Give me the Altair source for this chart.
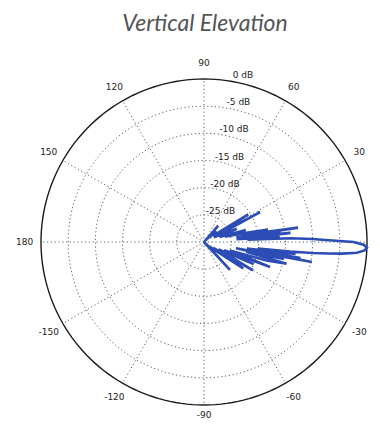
import altair as alt
import pandas as pd

# ---- data ----
ring_db = [0, -5, -10, -15, -20, -25]
ring_labels = ["0 dB", "-5 dB", "-10 dB", "-15 dB", "-20 dB", "-25 dB"]
spoke_angles = [0, 30, 60, 90, 120, 150, 180, 210, 240, 270, 300, 330]
angle_label_values = [90, 60, 30, -30, -60, -90, -120, -150, 180, 150, 120]
angle_label_text = ["90", "60", "30", "-30", "-60", "-90", "-120", "-150", "180", "150", "120"]

pattern_angle = [-60, -50, -47, -44, -38, -34, -32, -30, -27, -24, -22, -20.7, -18, -16.5,
                 -14.7, -13, -12, -11, -10.5, -9.7, -9.5, -8.5, -7.5, -7, -6.3, -5.8, -5.3,
                 -4.8, -4, -3, -2, -1, 0, 0.8, 1.6, 2.5, 3, 4, 5, 6, 7, 8, 8.5, 8.7, 10, 11,
                 12.5, 14, 16, 18, 22, 25, 28, 30, 32, 35, 40, 44, 49, 53, 60]
pattern_db = [-30, -30, -23, -29, -28, -21.3, -28, -19.6, -27, -20, -26, -17, -25, -18,
              -14.3, -22, -15, -24, -9.8, -22, -12, -22, -13, -20, -14, -10, -7,
              -4.5, -1.8, -0.4, 0, -0.6, -2.5, -7, -10, -14, -22, -16, -24, -14, -22, -15.8, -24, -12.5, -23, -18,
              -22.6, -26, -22, -27, -23.5, -28, -18.3, -28, -20.4, -28, -27, -29, -26, -30, -30]

FLOOR = -30.0
W, H = 364, 413
CX, CY, R = 196, 234, 163
xdom = [-CX / R, (W - CX) / R]
ydom = [-(H - CY) / R, CY / R]

xs = alt.Scale(domain=xdom, range=[0, W], nice=False, zero=False)
ys = alt.Scale(domain=ydom, range=[H, 0], nice=False, zero=False)
X = lambda f: alt.X(f, type="quantitative", scale=xs, axis=None)
Y = lambda f: alt.Y(f, type="quantitative", scale=ys, axis=None)

GRID = "#4f6373"
DASH = [1.2, 2.6]

# rings
ring_rows = []
for i, d in enumerate(ring_db):
    for a in range(0, 362, 2):
        ring_rows.append({"ring": i, "db": d, "ang": a})
ring_df = pd.DataFrame(ring_rows)

rings_base = alt.Chart(ring_df).transform_calculate(
    rn=f"(datum.db - ({FLOOR})) / {-FLOOR}"
).transform_calculate(
    x="datum.rn * cos(datum.ang * PI / 180)",
    y="datum.rn * sin(datum.ang * PI / 180)",
)
rings_dotted = rings_base.transform_filter("datum.db < 0").mark_line(
    color=GRID, strokeWidth=1, strokeDash=DASH
).encode(x=X("x:Q"), y=Y("y:Q"), detail="ring:N", order="ang:Q")
ring_outer = rings_base.transform_filter("datum.db == 0").mark_line(
    color="#1a1a1a", strokeWidth=1.4
).encode(x=X("x:Q"), y=Y("y:Q"), detail="ring:N", order="ang:Q")

# spokes
spoke_df = pd.DataFrame({"ang": spoke_angles})
spokes = alt.Chart(spoke_df).transform_calculate(
    x0="0", y0="0",
    x1="cos(datum.ang * PI / 180)",
    y1="sin(datum.ang * PI / 180)",
).mark_rule(color=GRID, strokeWidth=1, strokeDash=DASH).encode(
    x=X("x0:Q"), y=Y("y0:Q"), x2="x1:Q", y2="y1:Q"
)

# ring labels
rl_df = pd.DataFrame({"db": ring_db, "label": ring_labels})
ring_text = alt.Chart(rl_df).transform_calculate(
    rn=f"(datum.db - ({FLOOR})) / {-FLOOR}"
).transform_calculate(
    x=f"{12 / R} + 0.165 * datum.rn",
    y=f"datum.rn + {4 / R}",
).mark_text(font="DejaVu Sans", fontSize=9, color="#222222", align="center", baseline="middle").encode(
    x=X("x:Q"), y=Y("y:Q"), text="label:N"
)

# angle labels
al_df = pd.DataFrame({"ang": angle_label_values, "label": angle_label_text})
angle_text = alt.Chart(al_df).transform_calculate(
    x="1.10 * cos(datum.ang * PI / 180)",
    y=f"max(1.10 * sin(datum.ang * PI / 180), {ydom[0] + 6 / R})",
).mark_text(font="DejaVu Sans", fontSize=9, color="#222222", align="center", baseline="middle").encode(
    x=X("x:Q"), y=Y("y:Q"), text="label:N"
)

# pattern
pat_df = pd.DataFrame({"ang": pattern_angle, "db": pattern_db, "i": range(len(pattern_angle))})
pattern = alt.Chart(pat_df).transform_calculate(
    rn=f"max(0, (datum.db - ({FLOOR})) / {-FLOOR})"
).transform_calculate(
    x="datum.rn * cos(datum.ang * PI / 180)",
    y="datum.rn * sin(datum.ang * PI / 180)",
).mark_line(color="#2c4db5", strokeWidth=2.6, strokeJoin="miter", strokeMiterLimit=3).encode(
    x=X("x:Q"), y=Y("y:Q"), order="i:Q"
)

title = alt.Chart(pd.DataFrame({"t": ["Vertical Elevation"]})).mark_text(
    font="Lato", fontStyle="italic", fontSize=23, color="#555555", align="center", baseline="middle"
).encode(x=alt.value(197), y=alt.value(16), text="t:N")

chart = alt.layer(
    rings_dotted, spokes, ring_outer, pattern, ring_text, angle_text, title
).properties(
    width=W, height=H, autosize=alt.AutoSizeParams(type="none"), padding=0
).configure_view(stroke=None)

chart.save("out.html", embed_options={"renderer": "svg", "actions": False})
